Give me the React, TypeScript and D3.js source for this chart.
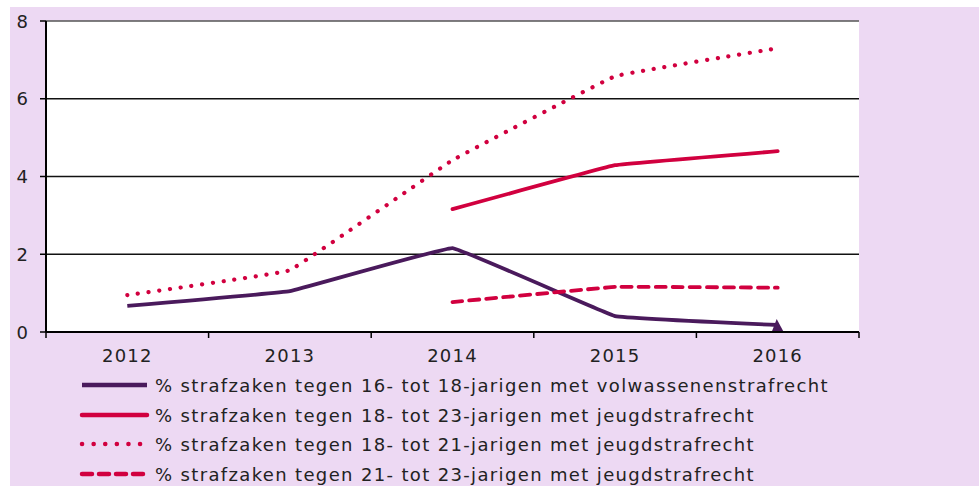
import React from "react";
import * as d3 from "d3";

const years = ["2012", "2013", "2014", "2015", "2016"];
const yTicks = [0, 2, 4, 6, 8];
const s16_18Adult = [0.67, 1.05, 2.16, 0.41, 0.18];
const s18_23Youth = [null, null, 3.16, 4.29, 4.65];
const s18_21Youth = [0.95, 1.59, 4.42, 6.58, 7.3];
const s21_23Youth = [null, null, 0.77, 1.16, 1.14];
const seriesNames = [
  "% strafzaken tegen 16- tot 18-jarigen met volwassenenstrafrecht",
  "% strafzaken tegen 18- tot 23-jarigen met jeugdstrafrecht",
  "% strafzaken tegen 18- tot 21-jarigen met jeugdstrafrecht",
  "% strafzaken tegen 21- tot 23-jarigen met jeugdstrafrecht",
];

const PURPLE = "#4a1a5c";
const RED = "#d1003f";
const BG = "#edd9f3";

const seriesStyles = [
  { color: PURPLE, dash: null as string | null, cap: "butt" },
  { color: RED, dash: null as string | null, cap: "round" },
  { color: RED, dash: "0.1 10.7", cap: "round" },
  { color: RED, dash: "10 7", cap: "round" },
];

export default function App() {
  const W = 979, H = 486;
  const left = 46, right = 859, top = 21, bottom = 332;
  const x = d3.scaleBand().domain(years).range([left, right]);
  const y = d3.scaleLinear().domain([0, 8]).range([bottom, top]);
  const all = [s16_18Adult, s18_23Youth, s18_21Youth, s21_23Youth];
  const line = d3
    .line<number | null>()
    .defined((d) => d != null)
    .x((_, i) => (x(years[i]) as number) + x.bandwidth() / 2)
    .y((d) => y(d as number))
    .curve(d3.curveCardinal.tension(0.85));

  const bw = x.bandwidth();
  const lastX = (x(years[4]) as number) + bw / 2;
  const font = "DejaVu Sans, Verdana, sans-serif";
  const legendY = [385, 415, 444, 474];

  return (
    <svg width={W} height={H} style={{ position: "absolute", left: 0, top: 0 }}>
      <rect x={10} y={7} width={W - 10} height={H - 7} fill={BG} />
      <rect x={left} y={top} width={right - left} height={bottom - top} fill="#fff" />
      {yTicks.filter((t) => t > 0).map((t) => (
        <line key={t} x1={left} x2={right} y1={y(t)} y2={y(t)} stroke={t === 8 ? "#555" : "#111"} strokeWidth={1.6} />
      ))}
      {/* y axis */}
      <line x1={left} x2={left} y1={top} y2={bottom} stroke="#000" strokeWidth={2} />
      {yTicks.map((t) => (
        <g key={t}>
          <line x1={left - 6} x2={left} y1={y(t)} y2={y(t)} stroke="#000" strokeWidth={1.5} />
          <text x={28} y={y(t) + 6.5} textAnchor="end" fontFamily={font} fontSize={18} fill="#222">{t}</text>
        </g>
      ))}
      {/* series */}
      {all.map((s, i) => (
        <path key={i} d={line(s) || ""} fill="none" stroke={seriesStyles[i].color} strokeWidth={i === 2 ? 4.2 : 3.8}
          strokeDasharray={seriesStyles[i].dash || undefined} strokeLinecap={seriesStyles[i].cap as any} strokeLinejoin="round" />
      ))}
      <path d={`M${lastX - 6},${bottom}L${lastX - 1},${bottom - 13}L${lastX + 6},${bottom}Z`} fill={PURPLE} />
      {/* x axis */}
      <line x1={left} x2={right} y1={bottom} y2={bottom} stroke="#000" strokeWidth={2} />
      {years.map((yr) => (
        <text key={yr} x={(x(yr) as number) + bw / 2} y={362} textAnchor="middle" fontFamily={font} fontSize={18} letterSpacing={1.2} fill="#222">{yr}</text>
      ))}
      {[...years.map((yr) => x(yr) as number), right].map((v, i) => (
        <line key={i} x1={v} x2={v} y1={bottom} y2={bottom + 6} stroke="#000" strokeWidth={1.5} />
      ))}
      {/* legend */}
      {seriesNames.map((n, i) => (
        <g key={n}>
          <line x1={82} x2={147} y1={legendY[i]} y2={legendY[i]} stroke={seriesStyles[i].color} strokeWidth={4.5}
            strokeDasharray={i === 2 ? "0.1 11.5" : i === 3 ? "10 7" : undefined} strokeLinecap={i === 0 ? "butt" : "round"} />
          <text x={155} y={legendY[i] + 6.5} fontFamily={font} fontSize={18} letterSpacing={1.35} fill="#222">{n}</text>
        </g>
      ))}
    </svg>
  );
}
